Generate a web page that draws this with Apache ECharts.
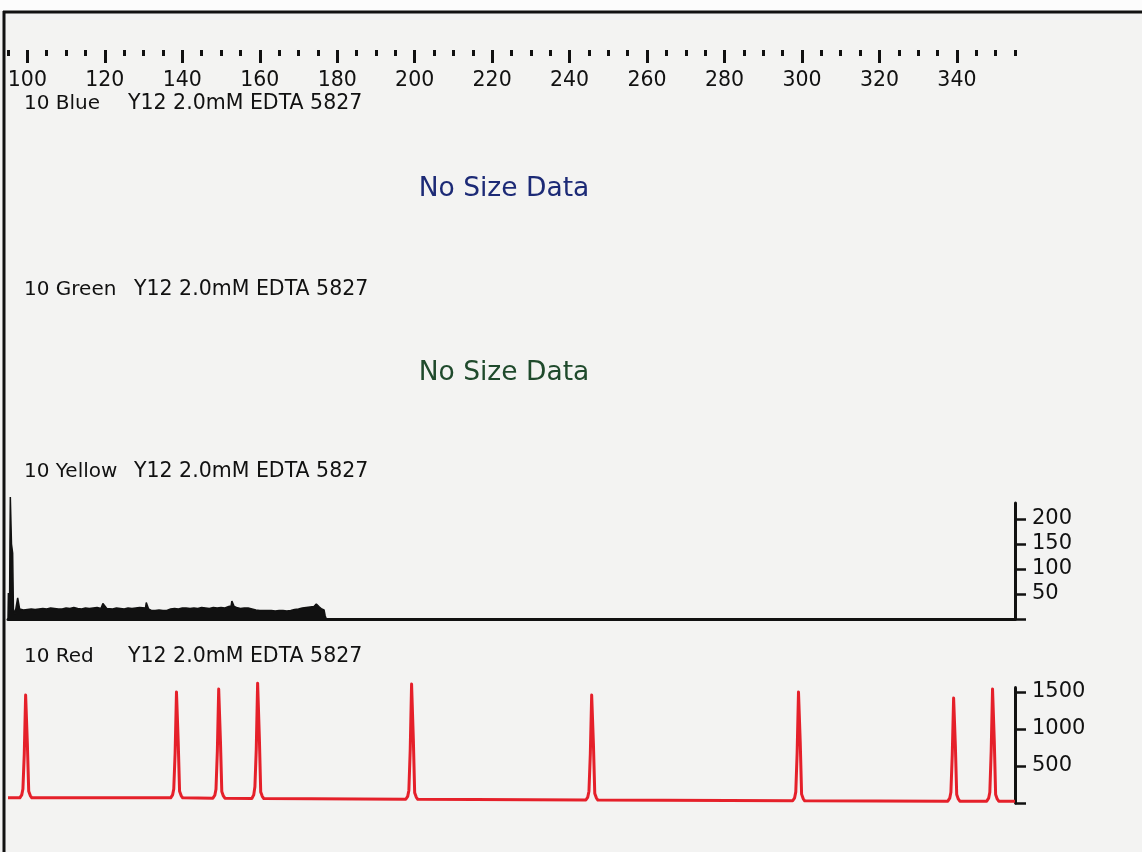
<!DOCTYPE html>
<html>
<head>
<meta charset="utf-8">
<title>10 Y12 2.0mM EDTA 5827</title>
<script src="https://cdn.jsdelivr.net/npm/echarts@6/dist/echarts.min.js"></script>
<style>
  html, body { margin: 0; padding: 0; background: #f3f3f2; }
  #chart { width: 1142px; height: 852px; }
</style>
</head>
<body>
<div id="chart"></div>
<script>
// Size ruler (bp)
const sizeMin = 95;
const sizeMax = 355;
const rulerMajor = [100, 120, 140, 160, 180, 200, 220, 240, 260, 280, 300, 320, 340];
const rulerMinor = [95, 105, 110, 115, 125, 130, 135, 145, 150, 155, 165, 170, 175,
  185, 190, 195, 205, 210, 215, 225, 230, 235, 245, 250, 255, 265, 270, 275,
  285, 290, 295, 305, 310, 315, 325, 330, 335, 345, 350, 355];

// Panel captions
const channels = ['10 Blue', '10 Green', '10 Yellow', '10 Red'];
const sampleName = 'Y12 2.0mM EDTA 5827';
const noSizeText = 'No Size Data';

// Yellow channel trace: [size bp, RFU]
const yellowTrace = [
  [95.0, 0], [95.1, 52], [95.25, 30], [95.4, 20], [95.5, 150], [95.6, 244], [95.75, 244],
  [95.9, 150], [96.2, 132], [96.4, 20], [96.8, 10], [97.3, 14], [97.5, 42], [97.8, 40],
  [98.0, 20], [99, 18], [100, 19], [101, 20], [102, 19], [103, 20], [104, 21], [105, 20],
  [106, 22], [107, 21], [108, 20], [109, 20], [110, 22], [111, 21], [112, 23], [113, 21],
  [114, 20], [115, 22], [116, 21], [117, 22], [118, 23], [119, 21], [119.5, 31], [120, 32],
  [120.5, 21], [122, 20], [123, 22], [124, 21], [125, 20], [126, 22], [127, 21], [128, 22],
  [129, 23], [130.5, 22], [130.7, 33], [131.1, 33], [131.3, 20], [132, 17], [133, 17],
  [134, 18], [135, 17], [136, 17], [137, 20], [138, 21], [139, 20], [140, 22], [141, 22],
  [142, 21], [143, 22], [144, 21], [145, 23], [146, 22], [147, 21], [148, 23], [149, 22],
  [150, 23], [151, 22], [152, 25], [152.6, 26], [152.8, 36], [153.2, 36], [153.4, 25],
  [154, 23], [155, 21], [156, 22], [157, 22], [158, 20], [159, 18], [160, 17], [161, 17],
  [162, 17], [163, 17], [164, 16], [165, 17], [166, 17], [167, 16], [168, 17], [169, 19],
  [170, 20], [171, 22], [172, 23], [173, 24], [174, 25], [174.6, 30], [175, 30], [175.4, 24],
  [176, 20], [176.6, 18], [176.9, 6], [177.2, 0], [355, 0]
];

// Red channel (size standard) trace: [size bp, RFU]
const redTrace = [
  [95.0, 70],
  [98.05, 70], [98.55, 110], [98.85, 190], [99.2, 660], [99.55, 1460], [99.75, 1460], [100.0, 800], [100.35, 160], [100.75, 100], [101.15, 70],
  [137.0, 70], [137.5, 110], [137.8, 190], [138.15, 680], [138.5, 1500], [138.7, 1500], [138.95, 820], [139.3, 160], [139.7, 100], [140.1, 70],
  [147.9, 65], [148.4, 105], [148.7, 185], [149.05, 700], [149.4, 1540], [149.6, 1540], [149.85, 840], [150.2, 155], [150.6, 95], [151.0, 65],
  [157.95, 60], [158.45, 110], [158.75, 220], [159.1, 730], [159.45, 1620], [159.65, 1620], [159.9, 880], [160.25, 150], [160.65, 90], [161.05, 60],
  [197.7, 50], [198.2, 90], [198.5, 170], [198.85, 720], [199.2, 1608], [199.4, 1608], [199.65, 870], [200.0, 140], [200.4, 80], [200.8, 50],
  [244.2, 40], [244.7, 80], [245.0, 160], [245.35, 660], [245.7, 1460], [245.9, 1460], [246.15, 800], [246.5, 130], [246.9, 70], [247.3, 40],
  [297.6, 30], [298.1, 70], [298.4, 150], [298.75, 680], [299.1, 1500], [299.3, 1490], [299.55, 820], [299.9, 120], [300.3, 60], [300.7, 30],
  [337.65, 25], [338.15, 65], [338.45, 145], [338.8, 650], [339.15, 1420], [339.35, 1420], [339.6, 780], [339.95, 115], [340.35, 55], [340.75, 25],
  [347.7, 25], [348.2, 65], [348.5, 145], [348.85, 700], [349.2, 1540], [349.4, 1540], [349.65, 840], [350.0, 115], [350.4, 55], [350.8, 25],
  [355.0, 25]
];

// RFU scales
const yellowMax = 232;
const yellowTicks = [0, 50, 100, 150, 200];
const yellowLabels = [50, 100, 150, 200];
const redMax = 1560;
const redTicks = [0, 500, 1000, 1500];
const redLabels = [500, 1000, 1500];

const FONT = 'DejaVu Sans';
const INK = '#111111';
const PLOT_LEFT = 8;
const PLOT_RIGHT = 127;

function caption(text, x, y, size) {
  return {
    type: 'text', x: x, y: y, silent: true,
    style: { text: text, font: size + 'px "' + FONT + '"', fill: INK, textAlign: 'left', textVerticalAlign: 'middle' }
  };
}

function centred(text, x, y, color) {
  return {
    type: 'text', x: x, y: y, silent: true,
    style: { text: text, font: '26.5px "' + FONT + '"', fill: color, textAlign: 'center', textVerticalAlign: 'middle' }
  };
}

function rfuAxis(gridIndex, max, ticks, labels) {
  return {
    type: 'value', gridIndex: gridIndex, position: 'right', min: 0, max: max,
    splitLine: { show: false },
    axisLine: { show: true, onZero: false, lineStyle: { color: INK, width: 3 } },
    axisTick: { show: true, inside: false, length: 11, lineStyle: { color: INK, width: 2.5 }, customValues: ticks },
    axisLabel: {
      show: true, margin: 17, color: INK, fontSize: 21, fontFamily: FONT, customValues: labels,
      formatter: function (v) { return String(v); }
    }
  };
}

function rulerAxis(gridIndex, ticks, len, withLabels) {
  return {
    type: 'value', gridIndex: gridIndex, position: 'top', min: sizeMin, max: sizeMax,
    splitLine: { show: false }, axisLine: { show: false, onZero: false },
    axisTick: { show: true, inside: true, length: len, lineStyle: { color: INK, width: 3 }, customValues: ticks },
    axisLabel: withLabels
      ? { show: true, inside: true, margin: 20, color: INK, fontSize: 20.5, fontFamily: FONT, customValues: ticks,
          formatter: function (v) { return String(v); } }
      : { show: false }
  };
}

const chart = echarts.init(document.getElementById('chart'), null, { renderer: 'canvas' });

chart.setOption({
  backgroundColor: '#f3f3f2',
  animation: false,
  textStyle: { fontFamily: FONT },
  grid: [
    { left: PLOT_LEFT, right: PLOT_RIGHT, top: 50, height: 20 },      // ruler, major ticks
    { left: PLOT_LEFT, right: PLOT_RIGHT, top: 50, height: 20 },      // ruler, minor ticks
    { left: PLOT_LEFT, right: PLOT_RIGHT, top: 503, height: 116 },    // yellow
    { left: PLOT_LEFT, right: PLOT_RIGHT, top: 687.6, height: 115.4 } // red
  ],
  xAxis: [
    rulerAxis(0, rulerMajor, 13, true),
    rulerAxis(1, rulerMinor, 6, false),
    {
      type: 'value', gridIndex: 2, position: 'bottom', min: sizeMin, max: sizeMax,
      splitLine: { show: false },
      axisLine: { show: true, onZero: false, lineStyle: { color: INK, width: 3 } },
      axisTick: { show: false }, axisLabel: { show: false }
    },
    {
      type: 'value', gridIndex: 3, position: 'bottom', min: sizeMin, max: sizeMax,
      splitLine: { show: false }, axisLine: { show: false, onZero: false },
      axisTick: { show: false }, axisLabel: { show: false }
    }
  ],
  yAxis: [
    { type: 'value', gridIndex: 0, show: false, min: 0, max: 1 },
    { type: 'value', gridIndex: 1, show: false, min: 0, max: 1 },
    rfuAxis(2, yellowMax, yellowTicks, yellowLabels),
    rfuAxis(3, redMax, redTicks, redLabels)
  ],
  series: [
    {
      name: '10 Yellow', type: 'line', xAxisIndex: 2, yAxisIndex: 2, data: yellowTrace,
      showSymbol: false, clip: false, z: 3,
      lineStyle: { color: INK, width: 1.5 },
      areaStyle: { color: INK, opacity: 1 }
    },
    {
      name: '10 Red', type: 'line', xAxisIndex: 3, yAxisIndex: 3, data: redTrace,
      showSymbol: false, clip: false, z: 3,
      lineStyle: { color: '#e5202a', width: 3, join: 'round' }
    }
  ],
  graphic: [
    // page frame
    { type: 'rect', shape: { x: 0, y: 0, width: 1142, height: 11 }, style: { fill: '#fcfcfc' }, silent: true, z: 0 },
    { type: 'line', shape: { x1: 3, y1: 12, x2: 1142, y2: 12 }, style: { stroke: INK, lineWidth: 3 }, silent: true },
    { type: 'line', shape: { x1: 4, y1: 11, x2: 4, y2: 852 }, style: { stroke: INK, lineWidth: 3 }, silent: true },
    // captions
    caption(channels[0], 24, 104, 20), caption(sampleName, 128, 104, 20.5),
    caption(channels[1], 24, 290, 20), caption(sampleName, 134, 290, 20.5),
    caption(channels[2], 24, 472, 20), caption(sampleName, 134, 472, 20.5),
    caption(channels[3], 24, 657, 20), caption(sampleName, 128, 657, 20.5),
    // empty channels
    centred(noSizeText, 504, 189, '#1c2a76'),
    centred(noSizeText, 504, 373, '#1f4a2c')
  ]
});
</script>
</body>
</html>
